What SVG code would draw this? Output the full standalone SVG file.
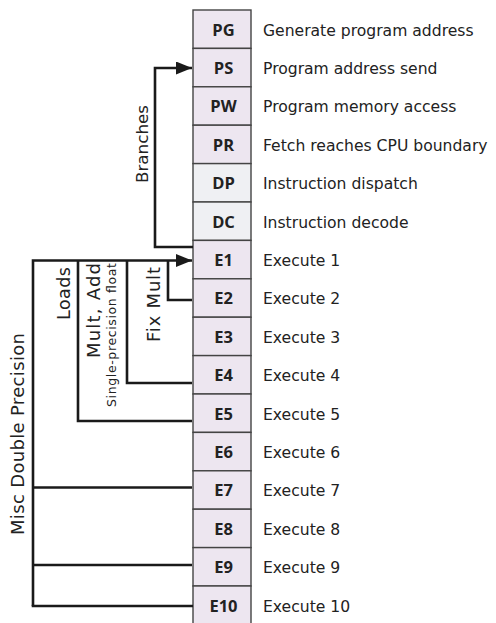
<svg xmlns="http://www.w3.org/2000/svg" width="496" height="623" viewBox="0 0 496 623">
<style>
.cell{stroke:#444;stroke-width:1.4}
.p{fill:#ede6f0}
.d{fill:#eff0f3}
.lab{font-family:"Open Sans","Liberation Sans",sans-serif;font-weight:bold;font-size:16.5px;fill:#222;text-anchor:middle}
.desc{font-family:"DejaVu Sans","Liberation Sans",sans-serif;font-size:15.6px;fill:#222}
.rot{font-family:"DejaVu Sans","Liberation Sans",sans-serif;font-size:17.5px;fill:#222;text-anchor:middle}
.wire{fill:none;stroke:#1a1a1a;stroke-width:2.6;stroke-linejoin:miter;stroke-linecap:butt}
</style>
<defs>
<marker id="ah" viewBox="0 0 16 13" refX="16" refY="6.5" markerWidth="16" markerHeight="13" markerUnits="userSpaceOnUse" orient="auto">
<path d="M0,0 L16,6.5 L0,13 Z" fill="#1a1a1a"/>
</marker>
</defs>
<g id="stage-PG"><rect class="cell p" x="193" y="10" width="58" height="38.4"/><text class="lab" x="223.5" y="35.5">PG</text><text class="desc" x="263" y="35.5">Generate program address</text></g>
<g id="stage-PS"><rect class="cell p" x="193" y="48.4" width="58" height="38.4"/><text class="lab" x="223.5" y="73.9">PS</text><text class="desc" x="263" y="73.9">Program address send</text></g>
<g id="stage-PW"><rect class="cell p" x="193" y="86.8" width="58" height="38.4"/><text class="lab" x="223.5" y="112.3">PW</text><text class="desc" x="263" y="112.3">Program memory access</text></g>
<g id="stage-PR"><rect class="cell p" x="193" y="125.2" width="58" height="38.4"/><text class="lab" x="223.5" y="150.7">PR</text><text class="desc" x="263" y="150.7">Fetch reaches CPU boundary</text></g>
<g id="stage-DP"><rect class="cell d" x="193" y="163.6" width="58" height="38.4"/><text class="lab" x="223.5" y="189.1">DP</text><text class="desc" x="263" y="189.1">Instruction dispatch</text></g>
<g id="stage-DC"><rect class="cell d" x="193" y="202" width="58" height="38.4"/><text class="lab" x="223.5" y="227.5">DC</text><text class="desc" x="263" y="227.5">Instruction decode</text></g>
<g id="stage-E1"><rect class="cell p" x="193" y="240.4" width="58" height="38.4"/><text class="lab" x="223.5" y="265.9">E1</text><text class="desc" x="263" y="265.9">Execute 1</text></g>
<g id="stage-E2"><rect class="cell p" x="193" y="278.8" width="58" height="38.4"/><text class="lab" x="223.5" y="304.3">E2</text><text class="desc" x="263" y="304.3">Execute 2</text></g>
<g id="stage-E3"><rect class="cell p" x="193" y="317.2" width="58" height="38.4"/><text class="lab" x="223.5" y="342.7">E3</text><text class="desc" x="263" y="342.7">Execute 3</text></g>
<g id="stage-E4"><rect class="cell p" x="193" y="355.6" width="58" height="38.4"/><text class="lab" x="223.5" y="381.1">E4</text><text class="desc" x="263" y="381.1">Execute 4</text></g>
<g id="stage-E5"><rect class="cell p" x="193" y="394" width="58" height="38.4"/><text class="lab" x="223.5" y="419.5">E5</text><text class="desc" x="263" y="419.5">Execute 5</text></g>
<g id="stage-E6"><rect class="cell p" x="193" y="432.4" width="58" height="38.4"/><text class="lab" x="223.5" y="457.9">E6</text><text class="desc" x="263" y="457.9">Execute 6</text></g>
<g id="stage-E7"><rect class="cell p" x="193" y="470.8" width="58" height="38.4"/><text class="lab" x="223.5" y="496.3">E7</text><text class="desc" x="263" y="496.3">Execute 7</text></g>
<g id="stage-E8"><rect class="cell p" x="193" y="509.2" width="58" height="38.4"/><text class="lab" x="223.5" y="534.7">E8</text><text class="desc" x="263" y="534.7">Execute 8</text></g>
<g id="stage-E9"><rect class="cell p" x="193" y="547.6" width="58" height="38.4"/><text class="lab" x="223.5" y="573.1">E9</text><text class="desc" x="263" y="573.1">Execute 9</text></g>
<g id="stage-E10"><rect class="cell p" x="193" y="586" width="58" height="40"/><text class="lab" x="223.5" y="612">E10</text><text class="desc" x="263" y="612">Execute 10</text></g>
<g id="connectors">
<path class="wire" d="M193,247 H155 V68 H192" marker-end="url(#ah)"/>
<path class="wire" d="M33,606 V260.5 H192" marker-end="url(#ah)"/>
<path class="wire" d="M168,260.5 V300 H192"/>
<path class="wire" d="M127,260.5 V383 H192"/>
<path class="wire" d="M78,260.5 V421 H192"/>
<path class="wire" d="M33,487.5 H192"/>
<path class="wire" d="M33,565 H192"/>
<path class="wire" d="M31.7,606 H193"/>
</g>
<g id="labels">
<text class="rot" style="font-size:16.7px" textLength="78" lengthAdjust="spacing" transform="translate(148,144) rotate(-90)">Branches</text>
<text class="rot" textLength="53" lengthAdjust="spacing" transform="translate(70,293.5) rotate(-90)">Loads</text>
<text class="rot" style="font-size:18px" textLength="95" lengthAdjust="spacing" transform="translate(100,310.5) rotate(-90)">Mult, Add</text>
<text class="rot" style="font-size:12.5px" textLength="144" lengthAdjust="spacing" transform="translate(116,335) rotate(-90)">Single-precision float</text>
<text class="rot" style="font-size:18px" textLength="75" lengthAdjust="spacing" transform="translate(160,304.5) rotate(-90)">Fix Mult</text>
<text class="rot" style="font-size:18px" textLength="202" lengthAdjust="spacing" transform="translate(24,434) rotate(-90)">Misc Double Precision</text>
</g>
</svg>
